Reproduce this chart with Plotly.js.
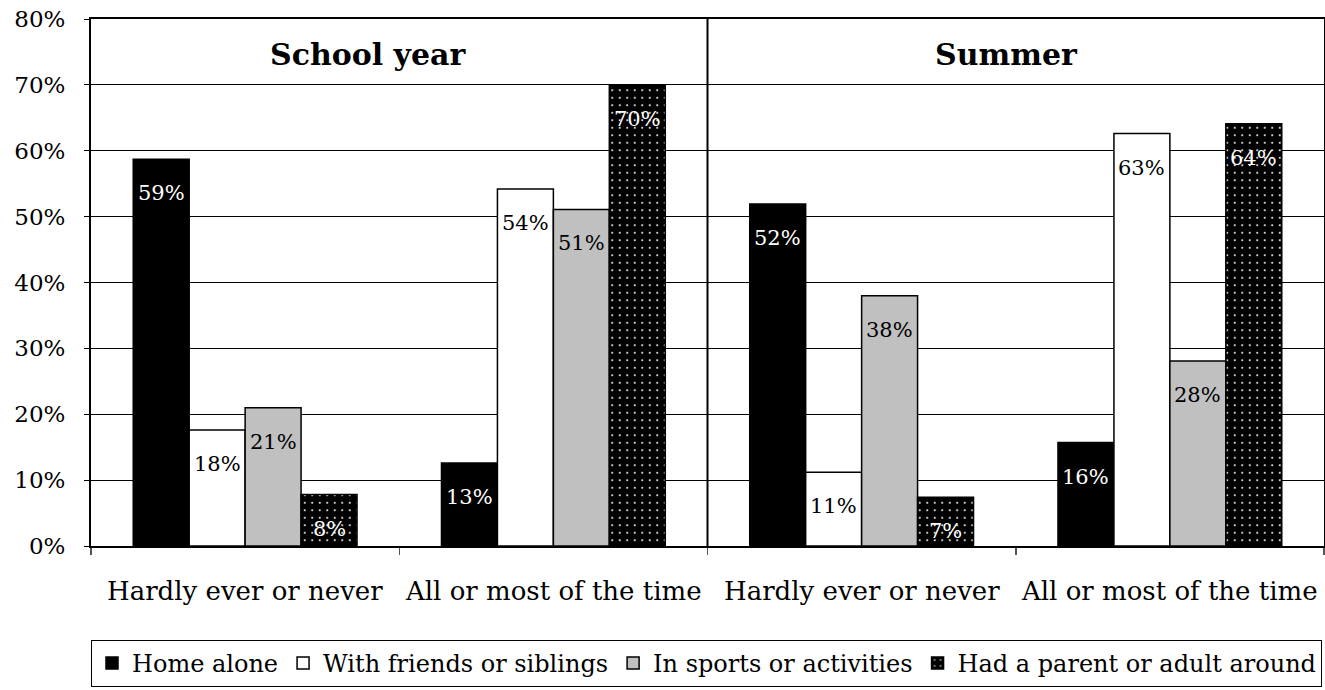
<!DOCTYPE html>
<html>
<head>
<meta charset="utf-8">
<script src="https://cdn.plot.ly/plotly-3.0.1.min.js"></script>
<style>html,body{margin:0;padding:0;background:#fff;}#chart{width:1325px;height:690px;}</style>
</head>
<body>
<div id="chart"></div>
<script>
// ---- data ----
const categories = ["Hardly ever or never", "All or most of the time", "Hardly ever or never", "All or most of the time"];
const panels = ["School year", "Summer"];
const seriesNames = ["Home alone", "With friends or siblings", "In sports or activities", "Had a parent or adult around"];
const homeAlone = [58.7, 12.6, 51.9, 15.7];
const withFriends = [17.6, 54.2, 11.2, 62.6];
const inSports = [21.0, 51.1, 38.0, 28.1];
const hadParent = [7.8, 70.0, 7.4, 64.1];
const yTicks = [0, 10, 20, 30, 40, 50, 60, 70, 80];

// ---- style ----
const FONT = "'DejaVu Serif', serif";
const bargap = 0.274;
const seriesValues = [homeAlone, withFriends, inSports, hadParent];
const fills = ["#000000", "#ffffff", "#c0c0c0", "#000000"];
const textColors = ["#ffffff", "#000000", "#000000", "#ffffff"];
const xPos = categories.map((_, i) => i + 0.5);

const traces = seriesValues.map((vals, s) => {
  const t = {
    type: "bar",
    name: seriesNames[s],
    x: xPos,
    y: vals,
    marker: {color: fills[s], line: {color: "#000000", width: 1.5}},
    hoverinfo: "skip"
  };
  if (s === 3) {
    t.marker.pattern = {shape: ".", bgcolor: "#000000", fgcolor: "#ffffff", size: 7.5, solidity: 0.06};
  }
  return t;
});

const annotations = [];
const nS = seriesValues.length;
const bw = (1 - bargap) / nS;
seriesValues.forEach((vals, s) => {
  vals.forEach((v, i) => {
    const cx = xPos[i] - (1 - bargap) / 2 + (s + 0.5) * bw;
    annotations.push({
      x: cx, y: v, xref: "x", yref: "y",
      text: Math.round(v) + "%",
      showarrow: false, yanchor: "top", yshift: -20,
      font: {family: FONT, size: 21, color: textColors[s]}
    });
  });
});
categories.forEach((c, i) => {
  annotations.push({
    x: xPos[i], y: -0.085, xref: "x", yref: "paper",
    text: c, showarrow: false, yanchor: "middle",
    font: {family: FONT, size: 26, color: "#000"}
  });
});
const panelX = [0.9, 2.97];
panels.forEach((p, k) => {
  annotations.push({
    x: panelX[k], y: 74.6, xref: "x", yref: "y",
    text: "<b>" + p + "</b>", showarrow: false,
    font: {family: FONT, size: 30, color: "#000"}
  });
});

const layout = {
  width: 1325, height: 690,
  margin: {l: 91, r: 1, t: 19, b: 144},
  paper_bgcolor: "#fff", plot_bgcolor: "#fff",
  barmode: "group", bargap: bargap, bargroupgap: 0,
  showlegend: true,
  font: {family: FONT, size: 22, color: "#000"},
  xaxis: {
    range: [0, 4], showgrid: false, zeroline: false,
    tickvals: [0, 1, 2, 3, 4], showticklabels: false,
    ticks: "outside", ticklen: 7, tickcolor: "#555", tickwidth: 1.5,
    showline: true, linecolor: "#000", linewidth: 2, mirror: true
  },
  yaxis: {
    range: [0, 80], tickvals: yTicks, ticktext: yTicks.map(v => v + "%"),
    ticks: "outside", ticklen: 5, tickcolor: "#000",
    showgrid: true, gridcolor: "#000", gridwidth: 1,
    zeroline: false, showline: true, linecolor: "#000", linewidth: 2, mirror: true,
    tickfont: {family: FONT, size: 23, color: "#000"}, ticklabelstandoff: 14
  },
  shapes: [{type: "line", xref: "x", yref: "y", x0: 2, x1: 2, y0: 0, y1: 80, line: {color: "#000", width: 2}}],
  annotations: annotations,
  legend: {
    orientation: "h", x: 0, xanchor: "left", y: -0.178, yanchor: "top",
    bordercolor: "#000", borderwidth: 1, bgcolor: "#fff",
    font: {family: FONT, size: 24, color: "#000"},
    itemwidth: 30, traceorder: "normal"
  }
};

Plotly.newPlot("chart", traces, layout, {displayModeBar: false, staticPlot: true});
</script>
</body>
</html>
